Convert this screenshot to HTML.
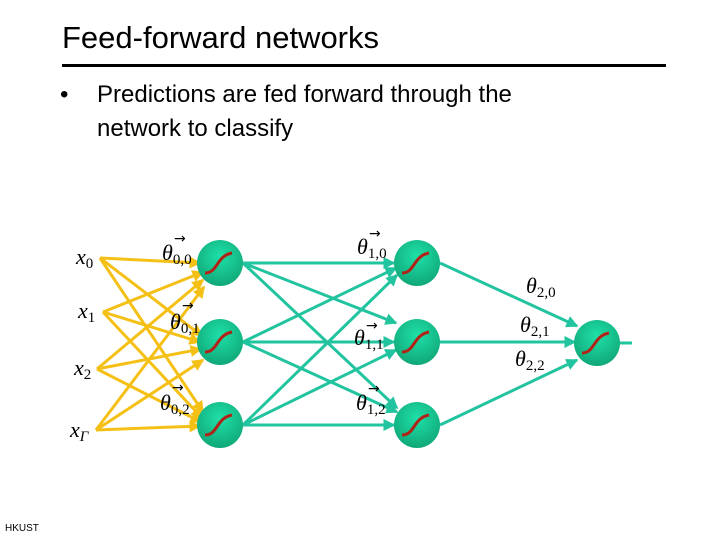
<!DOCTYPE html>
<html><head><style>
body{margin:0;width:720px;height:540px;background:#fff;overflow:hidden;position:relative;font-family:"Liberation Sans",sans-serif}
.t{position:absolute}
</style></head><body>
<div class="t" style="left:62px;top:20px;font-size:31px;">Feed-forward networks</div>
<div class="t" style="left:62px;top:64px;width:604px;height:3px;background:#000"></div>
<div class="t" style="left:60px;top:78px;font-size:24px;line-height:34px">•</div>
<div class="t" style="left:97px;top:78px;font-size:24px;line-height:34px">Predictions are fed forward through the<br>network to classify</div>
<div class="t" style="left:5px;top:523px;font-size:10px">HKUST</div>
<svg class="t" style="left:0;top:0" width="720" height="540">
<defs>
<marker id="ay" markerWidth="4" markerHeight="4" refX="3.5" refY="2" orient="auto" markerUnits="strokeWidth"><path d="M0,0L4,2L0,4z" fill="#f5c016"/></marker>
<marker id="at" markerWidth="4" markerHeight="4" refX="3.5" refY="2" orient="auto" markerUnits="strokeWidth"><path d="M0,0L4,2L0,4z" fill="#22c4a0"/></marker>
<radialGradient id="g" cx="50%" cy="35%" r="65%"><stop offset="0" stop-color="#1fe0a8"/><stop offset="1" stop-color="#10a878"/></radialGradient>
</defs>
<g stroke="#f5c016" stroke-width="3" marker-end="url(#ay)">
<line x1="100" y1="258" x2="200" y2="263"/><line x1="100" y1="258" x2="202" y2="336"/><line x1="100" y1="258" x2="203" y2="412"/>
<line x1="103" y1="312" x2="203" y2="272"/><line x1="103" y1="312" x2="200" y2="342"/><line x1="103" y1="312" x2="202" y2="418"/>
<line x1="97" y1="369" x2="203" y2="280"/><line x1="97" y1="369" x2="201" y2="349"/><line x1="97" y1="369" x2="201" y2="422"/>
<line x1="96" y1="430" x2="204" y2="287"/><line x1="96" y1="430" x2="203" y2="360"/><line x1="96" y1="430" x2="200" y2="426"/>
</g>
<g stroke="#22c4a0" stroke-width="3" marker-end="url(#at)">
<line x1="243" y1="263" x2="394" y2="263"/><line x1="243" y1="263" x2="396" y2="323"/><line x1="243" y1="263" x2="397" y2="408"/>
<line x1="243" y1="342" x2="396" y2="268"/><line x1="243" y1="342" x2="394" y2="342"/><line x1="243" y1="342" x2="397" y2="412"/>
<line x1="243" y1="425" x2="397" y2="275"/><line x1="243" y1="425" x2="396" y2="350"/><line x1="243" y1="425" x2="394" y2="425"/>
<line x1="440" y1="263" x2="577" y2="326"/><line x1="440" y1="342" x2="575" y2="342"/><line x1="440" y1="425" x2="577" y2="360"/>
</g>
<line x1="620" y1="343" x2="632" y2="343" stroke="#22c4a0" stroke-width="3"/>
<g fill="url(#g)">
<circle cx="220" cy="263" r="23"/><circle cx="220" cy="342" r="23"/><circle cx="220" cy="425" r="23"/>
<circle cx="417" cy="263" r="23"/><circle cx="417" cy="342" r="23"/><circle cx="417" cy="425" r="23"/>
<circle cx="597" cy="343" r="23"/>
</g>
<g fill="none" stroke="#b02418" stroke-width="3">
<path d="M205 273 C218 273 216 256 232 253"/><path d="M205 352 C218 352 216 335 232 332"/><path d="M205 435 C218 435 216 418 232 415"/>
<path d="M402 273 C415 273 413 256 429 253"/><path d="M402 352 C415 352 413 335 429 332"/><path d="M402 435 C415 435 413 418 429 415"/>
<path d="M582 353 C595 353 593 336 609 333"/>
</g>
<g font-family="Liberation Serif,serif" font-style="italic" font-size="22" fill="#000">
<text x="76" y="264">x<tspan font-style="normal" font-size="15" dy="4">0</tspan></text>
<text x="78" y="318">x<tspan font-style="normal" font-size="15" dy="4">1</tspan></text>
<text x="74" y="375">x<tspan font-style="normal" font-size="15" dy="4">2</tspan></text>
<text x="70" y="437">x<tspan font-size="15" dy="4">Γ</tspan></text>
<text x="162" y="260">θ<tspan font-style="normal" font-size="15" dy="4">0,0</tspan></text>
<text x="170" y="329">θ<tspan font-style="normal" font-size="15" dy="4">0,1</tspan></text>
<text x="160" y="410">θ<tspan font-style="normal" font-size="15" dy="4">0,2</tspan></text>
<text x="357" y="254">θ<tspan font-style="normal" font-size="15" dy="4">1,0</tspan></text>
<text x="354" y="345">θ<tspan font-style="normal" font-size="15" dy="4">1,1</tspan></text>
<text x="356" y="410">θ<tspan font-style="normal" font-size="15" dy="4">1,2</tspan></text>
<text x="526" y="293">θ<tspan font-style="normal" font-size="15" dy="4">2,0</tspan></text>
<text x="520" y="332">θ<tspan font-style="normal" font-size="15" dy="4">2,1</tspan></text>
<text x="515" y="366">θ<tspan font-style="normal" font-size="15" dy="4">2,2</tspan></text>
</g>
<g font-family="DejaVu Sans,sans-serif" font-size="14" fill="#000">
<text x="174" y="243">→</text><text x="182" y="310">→</text><text x="172" y="392">→</text>
<text x="369" y="238">→</text><text x="366" y="330">→</text><text x="368" y="393">→</text>
</g>
</svg>
</body></html>
